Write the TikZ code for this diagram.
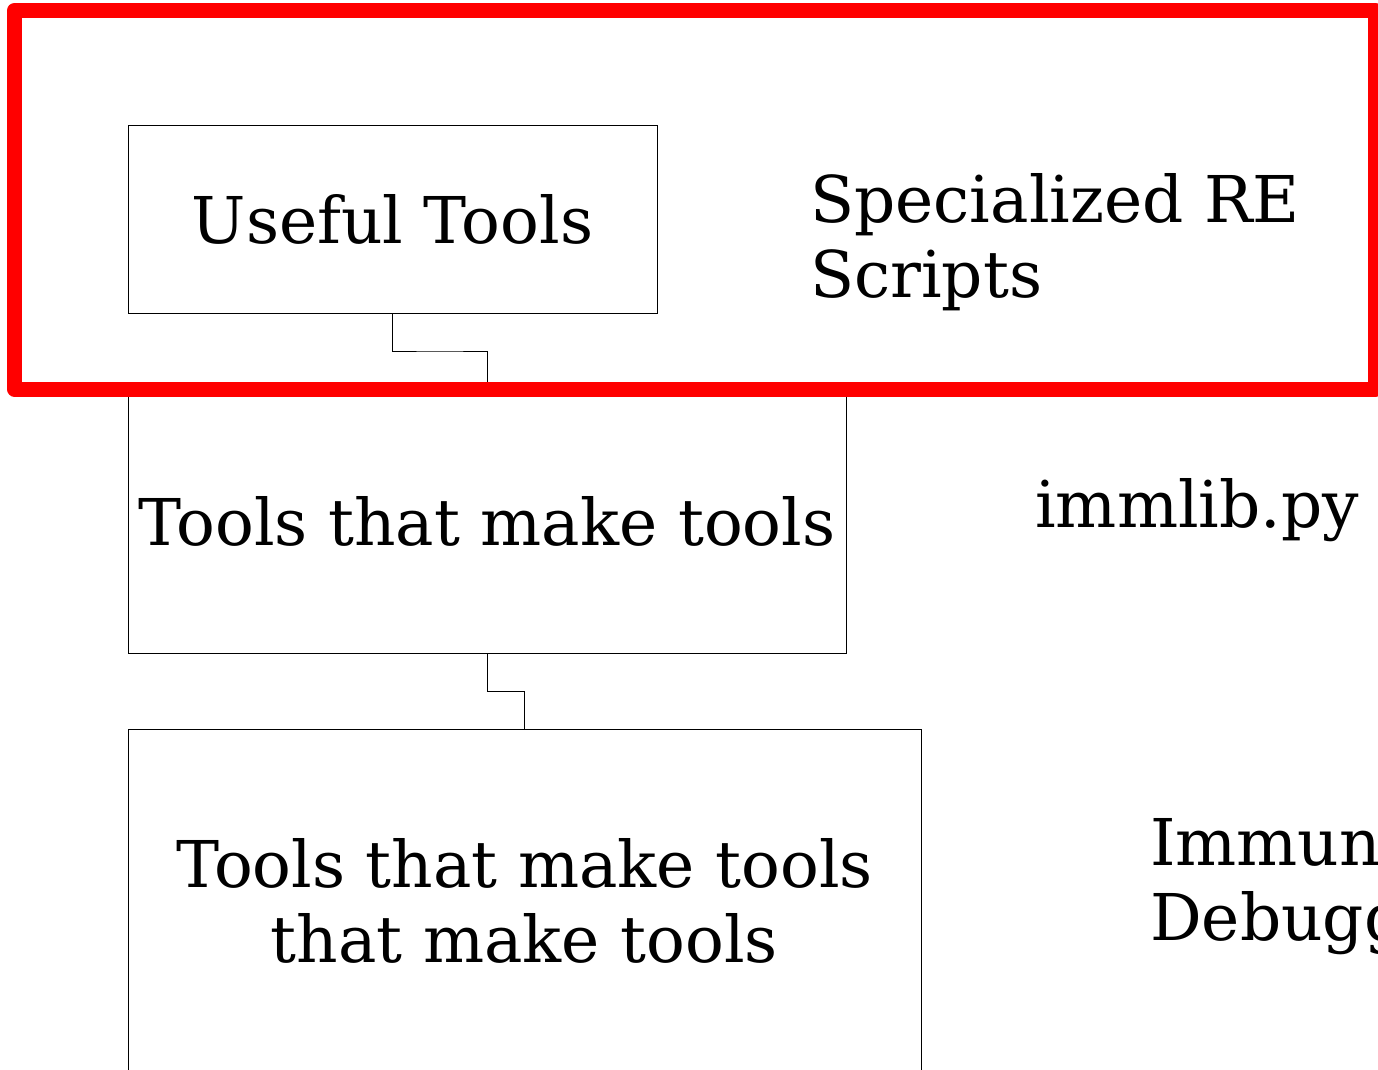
\documentclass[tikz,border=0pt]{standalone}
\usepackage{fontspec}
\setmainfont{DejaVu Serif}
\usetikzlibrary{calc}
\tikzset{
  box/.style={draw=black, line width=0.8pt, rectangle, inner sep=0pt, font=\bigtext, align=center},
  link/.style={draw=black, line width=0.8pt},
  note/.style={inner sep=0pt, font=\bigtext, align=left},
  frame/.style={draw=red, line width=15pt, line join=round}
}
\newcommand{\bigtext}{\fontsize{64.5}{75}\selectfont}
\begin{document}
\begin{tikzpicture}[x=1pt, y=-1pt]
  \useasboundingbox (0,0) rectangle (1378,1069);
  \clip (0,0) rectangle (1378,1069);

  % tool boxes
  \node[box, minimum width=529pt, minimum height=188pt] (useful) at (392.5,219) {Useful Tools};
  \node[box, minimum width=718pt, minimum height=264pt] (makers) at (487,521) {Tools that make tools};
  \node[box, minimum width=793pt, minimum height=344pt] (metamakers) at (524.5,901) {Tools that make tools\\that make tools};

  % stepped connectors between the boxes
  \coordinate (m1) at ($(useful.south)!0.5!(makers.north)$);
  \coordinate (m2) at ($(makers.south)!0.5!(metamakers.north)$);
  \draw[link] (useful.south) |- (m1) -| (makers.north);
  \draw[link] (makers.south) |- (m2) -| (metamakers.north);

  % labels on the right (base anchor sits on the last line)
  \node[note, anchor=base west] (re) at (810,297) {Specialized RE\\Scripts};
  \node[note, anchor=base west] (immlib) at (1035,527) {immlib.py};
  \node[note, anchor=base west] (immdbg) at (1150,940) {Immunity\\Debugger};

  % highlight frame around the top level
  \draw[frame] (14.5,10.5) rectangle (1375.5,389);
\end{tikzpicture}
\end{document}
